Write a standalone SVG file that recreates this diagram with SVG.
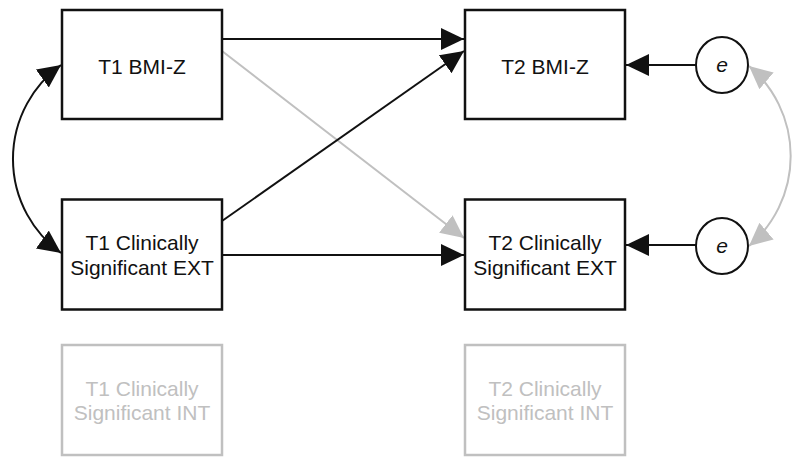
<svg xmlns="http://www.w3.org/2000/svg" width="792" height="457" viewBox="0 0 792 457">
<style>
.box{fill:#fff;stroke:#111;stroke-width:2.5}
.gbox{fill:#fff;stroke:#c0c0c0;stroke-width:2.5}
.t{font-family:"Liberation Sans",Arial,sans-serif;font-size:21px;fill:#111;text-anchor:middle}
.gt{font-family:"Liberation Sans",Arial,sans-serif;font-size:21px;fill:#c0c0c0;text-anchor:middle}
.ln{fill:none;stroke:#111;stroke-width:2}
.gln{fill:none;stroke:#c0c0c0;stroke-width:2}
.err{fill:#fff;stroke:#111;stroke-width:2}
</style>
<defs>
<marker id="ah" markerUnits="userSpaceOnUse" markerWidth="24" markerHeight="24" refX="23" refY="11" orient="auto-start-reverse" viewBox="0 0 24 24">
<path d="M0,0 L23,11 L0,22 z" fill="#111"/>
</marker>
<marker id="gah" markerUnits="userSpaceOnUse" markerWidth="24" markerHeight="24" refX="23" refY="11" orient="auto-start-reverse" viewBox="0 0 24 24">
<path d="M0,0 L23,11 L0,22 z" fill="#c0c0c0"/>
</marker>
</defs>
<g id="connectors">
<path class="gln" d="M222,51 L464,238" marker-end="url(#gah)"/>
<path class="ln" d="M222,39 L464,39" marker-end="url(#ah)"/>
<path class="ln" d="M222,221 L464,51" marker-end="url(#ah)"/>
<path class="ln" d="M222,255 L464,255" marker-end="url(#ah)"/>
<path class="ln" d="M696,65 L626,65" marker-end="url(#ah)"/>
<path class="ln" d="M696,245 L626,245" marker-end="url(#ah)"/>
<path class="ln" d="M61,65 A116,116 0 0 0 61,253" marker-start="url(#ah)" marker-end="url(#ah)"/>
<path class="gln" d="M749,66 A118,118 0 0 1 749,246" marker-start="url(#gah)" marker-end="url(#gah)"/>
</g>
<g id="t1bmi">
<rect class="box" x="62" y="10" width="160" height="109"/>
<text class="t" x="142" y="74">T1 BMI-Z</text>
</g>
<g id="t1ext">
<rect class="box" x="62" y="199.5" width="160" height="110"/>
<text class="t" x="142" y="250">T1 Clinically</text>
<text class="t" x="142" y="275">Significant EXT</text>
</g>
<g id="t1int">
<rect class="gbox" x="62" y="345" width="160" height="110"/>
<text class="gt" x="142" y="396">T1 Clinically</text>
<text class="gt" x="142" y="420">Significant INT</text>
</g>
<g id="t2bmi">
<rect class="box" x="465" y="10" width="160" height="109"/>
<text class="t" x="545" y="74">T2 BMI-Z</text>
</g>
<g id="t2ext">
<rect class="box" x="465" y="199.5" width="160" height="110"/>
<text class="t" x="545" y="250">T2 Clinically</text>
<text class="t" x="545" y="275">Significant EXT</text>
</g>
<g id="t2int">
<rect class="gbox" x="465" y="345" width="160" height="110"/>
<text class="gt" x="545" y="396">T2 Clinically</text>
<text class="gt" x="545" y="420">Significant INT</text>
</g>
<g id="e1">
<ellipse class="err" cx="722" cy="65" rx="26" ry="28"/>
<text class="t" x="722" y="72" font-style="italic">e</text>
</g>
<g id="e2">
<ellipse class="err" cx="722" cy="246" rx="26" ry="28"/>
<text class="t" x="722" y="253" font-style="italic">e</text>
</g>
</svg>
